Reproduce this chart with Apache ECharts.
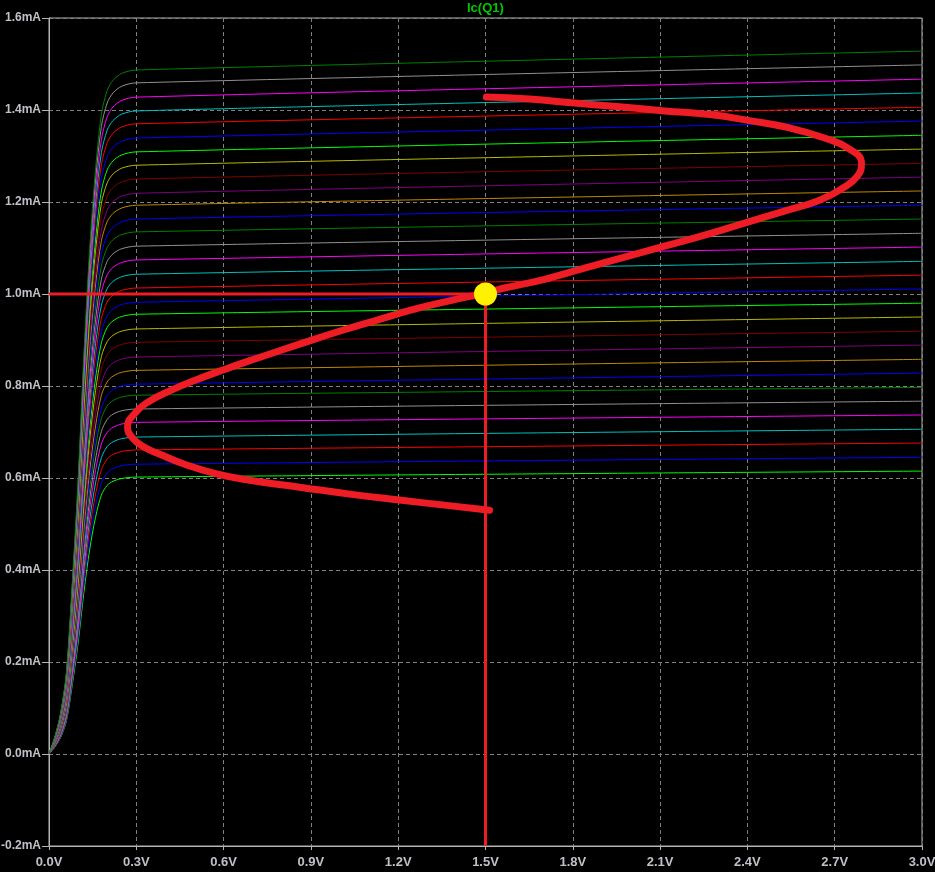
<!DOCTYPE html>
<html>
<head>
<meta charset="utf-8">
<script src="https://cdn.jsdelivr.net/npm/echarts@6/dist/echarts.min.js"></script>
<style>
html, body { margin: 0; padding: 0; background: #000; }
#main { width: 935px; height: 872px; }
</style>
</head>
<body>
<div id="main"></div>
<script>
// Ic of each stepped curve at Vce = 0.3V and 3.0V (mA), bottom curve first
var levelAt03 = [0.602, 0.630, 0.661, 0.689, 0.721, 0.750, 0.780, 0.804, 0.834, 0.863, 0.895,
	0.924, 0.956, 0.982, 1.013, 1.043, 1.074, 1.104, 1.135, 1.163, 1.193,
	1.219, 1.250, 1.280, 1.309, 1.339, 1.370, 1.398, 1.428, 1.459, 1.487];
var levelAt30 = [0.615, 0.645, 0.676, 0.706, 0.737, 0.767, 0.797, 0.828, 0.858, 0.889, 0.919,
	0.950, 0.980, 1.011, 1.041, 1.071, 1.102, 1.132, 1.163, 1.193, 1.224,
	1.254, 1.284, 1.315, 1.345, 1.376, 1.406, 1.437, 1.467, 1.498, 1.528];
// knee of the curves (part of the 0.3V level reached at each Vce)
var kneeV = [0, 0.02, 0.04, 0.06, 0.08, 0.10, 0.12, 0.14, 0.16, 0.18, 0.20, 0.22, 0.25, 0.30];
var kneeFrac = [0, 0.025, 0.06, 0.12, 0.25, 0.40, 0.585, 0.74, 0.855, 0.935, 0.97, 0.985, 0.995, 1.0];
var traceColors = ['#00ff00', '#0000ff', '#ff0000', '#00c0c0', '#ff00ff', '#909090',
	'#008000', '#0000ff', '#c08800', '#800080', '#800000', '#b8b800'];

// load trajectory (V, mA)
var loadV = [1.503, 1.651, 1.806, 1.960, 2.115, 2.270, 2.407, 2.545, 2.665, 2.751, 2.792,
	2.778, 2.727, 2.648, 2.527, 2.390, 2.253, 2.115, 1.978, 1.840, 1.703, 1.565, 1.497,
	1.376, 1.256, 1.136, 0.998, 0.861, 0.723, 0.603, 0.500, 0.421, 0.345, 0.297, 0.270,
	0.287, 0.328, 0.387, 0.466, 0.569, 0.689, 0.861, 1.033, 1.204, 1.359, 1.514];
var loadI = [1.428, 1.424, 1.415, 1.407, 1.398, 1.390, 1.377, 1.361, 1.339, 1.315, 1.284,
	1.256, 1.230, 1.204, 1.180, 1.154, 1.128, 1.104, 1.080, 1.056, 1.032, 1.013, 1.002,
	0.985, 0.967, 0.945, 0.919, 0.891, 0.862, 0.836, 0.812, 0.791, 0.767, 0.742, 0.711,
	0.687, 0.667, 0.650, 0.630, 0.610, 0.595, 0.580, 0.565, 0.552, 0.541, 0.530];

// operating point
var qV = 1.5;
var qI = 1.0;

var xMin = 0, xMax = 3.0, xStep = 0.3;
var yMin = -0.2, yMax = 1.6, yStep = 0.2;

var labelColor = '#c0c0c8';
var series = [];

for (var k = 0; k < levelAt03.length; k++) {
	var pts = [];
	for (var i = 0; i < kneeV.length; i++) {
		pts.push([kneeV[i], levelAt03[k] * kneeFrac[i]]);
	}
	pts.push([xMax, levelAt30[k]]);
	series.push({
		type: 'line',
		data: pts,
		symbol: 'none',
		smooth: 0.3,
		lineStyle: { color: traceColors[k % traceColors.length], width: 1 },
		silent: true
	});
}

var loadPts = [];
for (var j = 0; j < loadV.length; j++) {
	loadPts.push([loadV[j], loadI[j]]);
}

series.push({
	type: 'line',
	data: [[xMin, qI], [qV, qI]],
	symbol: 'none',
	lineStyle: { color: '#ee1c24', width: 3 }
});
series.push({
	type: 'line',
	data: [[qV, yMin], [qV, qI]],
	symbol: 'none',
	lineStyle: { color: '#ee1c24', width: 3 }
});
series.push({
	type: 'line',
	data: loadPts,
	symbol: 'none',
	smooth: 0.5,
	lineStyle: { color: '#ee1c24', width: 7, cap: 'round', join: 'round' }
});
series.push({
	type: 'scatter',
	data: [[qV, qI]],
	symbol: 'circle',
	symbolSize: 23,
	z: 10,
	itemStyle: { color: '#fff200', opacity: 1 }
});

var myChart = echarts.init(document.getElementById('main'));
var option = {
	backgroundColor: '#000000',
	animation: false,
	title: {
		text: 'Ic(Q1)',
		left: 467,
		top: 2,
		padding: 0,
		textStyle: {
			color: '#00c800',
			fontFamily: 'Liberation Sans',
			fontWeight: 'bold',
			fontSize: 13
		}
	},
	grid: {
		left: 49,
		right: 13,
		top: 18,
		bottom: 26,
		containLabel: false,
		outerBoundsMode: 'none',
		show: true,
		borderColor: '#b4b4b4',
		borderWidth: 1,
		backgroundColor: 'transparent'
	},
	xAxis: {
		type: 'value',
		min: xMin,
		max: xMax,
		interval: xStep,
		axisLine: { show: true, onZero: false, lineStyle: { color: '#b4b4b4' } },
		axisTick: { show: true, length: 4, lineStyle: { color: '#b4b4b4' } },
		splitLine: { show: true, lineStyle: { color: '#808080', type: [4, 3], width: 1 } },
		axisLabel: {
			color: labelColor,
			fontFamily: 'Liberation Sans',
			fontWeight: 'bold',
			fontSize: 13,
			margin: 10,
			formatter: function(v) {
				return v.toFixed(1) + 'V';
			}
		}
	},
	yAxis: {
		type: 'value',
		min: yMin,
		max: yMax,
		interval: yStep,
		axisLine: { show: true, onZero: false, lineStyle: { color: '#b4b4b4' } },
		axisTick: { show: true, length: 7, lineStyle: { color: '#b4b4b4' } },
		splitLine: { show: true, lineStyle: { color: '#808080', type: [4, 3], width: 1 } },
		axisLabel: {
			color: labelColor,
			fontFamily: 'Liberation Sans',
			fontWeight: 'bold',
			fontSize: 12,
			margin: 8,
			formatter: function(v) {
				return v.toFixed(1) + 'mA';
			}
		}
	},
	series: series
};
myChart.setOption(option);
</script>
</body>
</html>
